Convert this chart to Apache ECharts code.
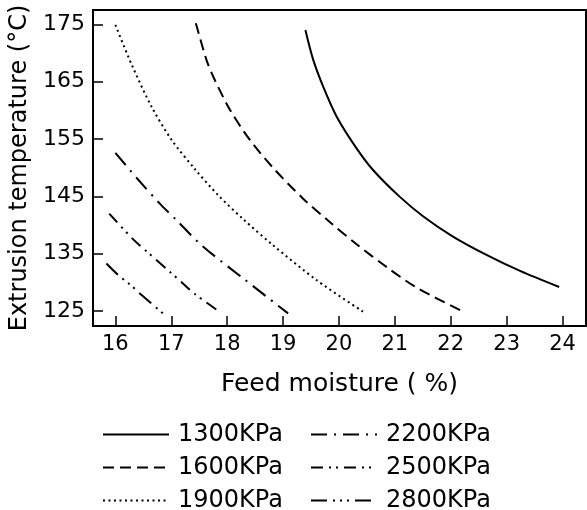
<!DOCTYPE html>
<html>
<head>
<meta charset="utf-8">
<script src="https://cdn.jsdelivr.net/npm/echarts@6/dist/echarts.min.js"></script>
<style>
html,body{margin:0;padding:0;background:#fff;}
#c{width:587px;height:510px;}
</style>
</head>
<body>
<div id="c"></div>
<script>
// Tick values
const xTicks = [16, 17, 18, 19, 20, 21, 22, 23, 24];
const yTicks = [125, 135, 145, 155, 165, 175];

// Series names
const seriesNames = ['1300KPa', '1600KPa', '1900KPa', '2200KPa', '2500KPa', '2800KPa'];

// Curves: [feed moisture %, extrusion temperature °C]
const s1300 = [[19.4,174.0],[19.54,168.8],[19.72,164.1],[19.96,158.9],[20.3,153.6],[20.61,149.6],[21.08,145.0],[21.51,141.5],[22.04,138.0],[22.64,134.8],[23.24,132.0],[23.94,129.2]];
const s1600 = [[17.44,175.2],[17.63,168.8],[17.75,165.9],[18.05,160.1],[18.41,154.8],[18.82,150.0],[19.36,144.6],[19.84,140.5],[20.31,136.7],[20.85,132.7],[21.39,129.1],[22.22,124.9]];
const s1900 = [[16.0,174.9],[16.3,167.8],[16.65,160.6],[17.01,154.8],[17.42,149.8],[17.84,145.2],[18.29,141.0],[18.82,136.5],[19.6,130.4],[20.43,124.9]];
const s2200 = [[16.0,152.6],[16.41,147.9],[16.8,143.7],[17.09,140.9],[17.54,136.5],[18.3,130.6],[19.09,124.6]];
const s2500 = [[15.89,142.0],[16.32,137.5],[16.56,135.4],[16.97,131.9],[17.21,129.8],[17.42,128.0],[17.86,124.9]];
const s2800 = [[15.84,133.3],[16.05,131.3],[16.29,129.4],[16.47,127.8],[16.85,124.6]];

const FONT = 'DejaVu Sans';
const chart = echarts.init(document.getElementById('c'), null, {renderer: 'canvas'});

function line(name, data, type) {
  return {
    name: name, type: 'line', data: data, symbol: 'none', showSymbol: false,
    smooth: 0.3,
    color: '#000',
    lineStyle: {color: '#000', width: 2, type: type},
    emphasis: {disabled: true}, silent: true, animation: false
  };
}

const legendCommon = {
  orient: 'vertical', top: 422.5, height: 150, padding: 0, itemWidth: 66, itemHeight: 14, itemGap: 9,
  itemStyle: {opacity: 0},
  textStyle: {fontFamily: FONT, fontSize: 24, lineHeight: 23.5, color: '#000', padding: [0, 0, 0, 4]},
  selectedMode: false
};

chart.setOption({
  animation: false,
  backgroundColor: '#fff',
  grid: {left: 93, right: 1, top: 10, bottom: 184, show: true, borderColor: '#000', borderWidth: 2},
  xAxis: {
    type: 'value', min: 15.6, max: 24.42,
    name: 'Feed moisture ( %)', nameLocation: 'middle', nameGap: 46,
    nameTextStyle: {fontFamily: FONT, fontSize: 25, color: '#000'},
    axisLine: {show: true, lineStyle: {color: '#000', width: 2}},
    axisTick: {show: true, inside: true, length: 10, customValues: xTicks, lineStyle: {color: '#000', width: 1.5}},
    axisLabel: {customValues: xTicks, fontFamily: FONT, fontSize: 21, color: '#000', margin: 8},
    splitLine: {show: false}
  },
  yAxis: {
    type: 'value', min: 122.4, max: 177.5,
    name: 'Extrusion temperature (°C)', nameLocation: 'middle', nameGap: 61,
    nameTextStyle: {fontFamily: FONT, fontSize: 24, color: '#000'},
    axisLine: {show: true, lineStyle: {color: '#000', width: 2}},
    axisTick: {show: true, inside: true, length: 10, customValues: yTicks, lineStyle: {color: '#000', width: 1.5}},
    axisLabel: {customValues: yTicks, fontFamily: FONT, fontSize: 22, color: '#000', margin: 8},
    splitLine: {show: false}
  },
  legend: [
    Object.assign({left: 102, data: seriesNames.slice(0, 3)}, legendCommon),
    Object.assign({left: 310, data: seriesNames.slice(3, 6)}, legendCommon)
  ],
  series: [
    line(seriesNames[0], s1300, 'solid'),
    line(seriesNames[1], s1600, [11, 6]),
    line(seriesNames[2], s1900, [2, 3.5]),
    line(seriesNames[3], s2200, [16, 7, 2, 7]),
    line(seriesNames[4], s2500, [12, 6, 2, 5, 2, 6]),
    line(seriesNames[5], s2800, [16, 6, 2, 5, 2, 5, 2, 6])
  ]
});
</script>
</body>
</html>
